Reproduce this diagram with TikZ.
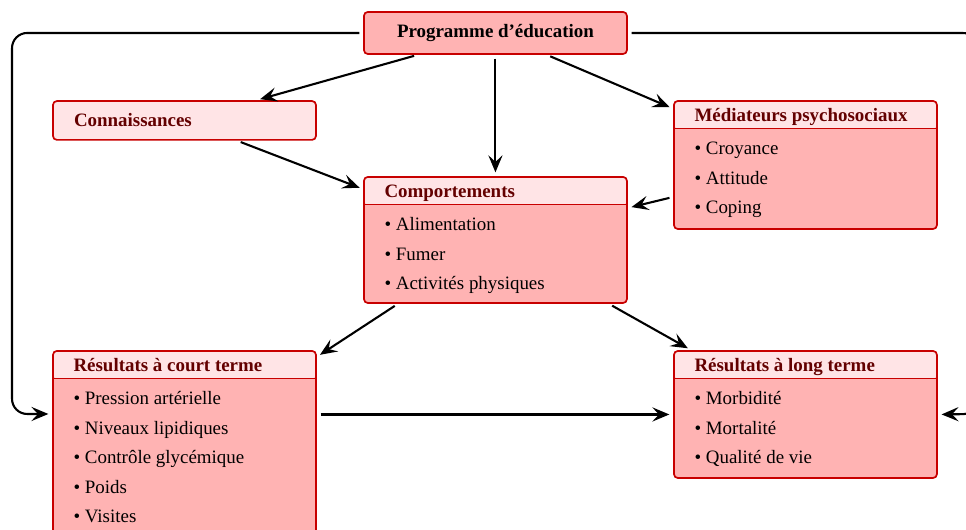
\documentclass[tikz,border=0pt]{standalone}
\usepackage{fontspec}
\setmainfont{Liberation Serif}
\usetikzlibrary{calc,arrows.meta}
\definecolor{boxred}{RGB}{255,179,179}
\definecolor{headred}{RGB}{255,228,230}
\definecolor{linered}{RGB}{200,0,0}
\definecolor{textred}{RGB}{100,0,0}

\begin{document}
\begin{tikzpicture}[
      box/.style={
        draw=linered, fill=boxred, line width=0.9pt, rounded corners=2pt,
        minimum width=4.88cm, inner sep=0pt
      },
      listbox/.style={box, path picture={
          \fill[headred] (path picture bounding box.north west) rectangle ([yshift=-0.51cm]path picture bounding box.north east);
          \draw[linered, line width=0.9pt] ([yshift=-0.51cm]path picture bounding box.north west) -- ([yshift=-0.51cm]path picture bounding box.north east);
        }},
      head/.style={anchor=base west, inner sep=0pt, font=\bfseries, text=textred},
      entry/.style={anchor=base west, inner sep=0pt},
      arr/.style={-{Stealth[length=9pt,width=7.5pt,inset=3.5pt]}, line width=1.1pt,
        shorten <=2pt, shorten >=2pt}
    ]
    \useasboundingbox (0,0) rectangle (17.93,-9.82);
    % boxes
    \node [box, minimum height=0.78cm, font=\bfseries] (prog) at (9.196,-0.612) {\raisebox{-2pt}{Programme d’éducation}};
    \node [box, fill=headred, minimum height=0.72cm, text width=4.1cm, align=left,
      font=\bfseries, text=textred] (conn) at (3.424,-2.236) {Connaissances};
    \node [listbox, minimum height=2.376cm] (med) at (14.95,-3.062) {};
    \node [listbox, minimum height=2.339cm] (comp) at (9.196,-4.454) {};
    \node [listbox, minimum height=3.434cm] (court) at (3.424,-8.231) {};
    \node [listbox, minimum height=2.357cm] (long) at (14.95,-7.693) {};
    % titles and items
    \node [head] (med-h) at ($(med.north west)+(0.39,-0.39)$) {Médiateurs psychosociaux};
    \foreach \txt [count=\i] in {Croyance, Attitude, Coping}
      \node [entry] (med-\i) at ($(med.north west)+(0.39,{-1.01-0.548*(\i-1)})$) {\textbullet\ \txt};
    \node [head] (comp-h) at ($(comp.north west)+(0.39,-0.39)$) {Comportements};
    \foreach \txt [count=\i] in {Alimentation, Fumer, Activités physiques}
      \node [entry] (comp-\i) at ($(comp.north west)+(0.39,{-1.01-0.548*(\i-1)})$) {\textbullet\ \txt};
    \node [head] (court-h) at ($(court.north west)+(0.39,-0.39)$) {Résultats à court terme};
    \foreach \txt [count=\i] in {Pression artérielle, Niveaux lipidiques, Contrôle glycémique, Poids, Visites}
      \node [entry] (court-\i) at ($(court.north west)+(0.39,{-1.01-0.548*(\i-1)})$) {\textbullet\ \txt};
    \node [head] (long-h) at ($(long.north west)+(0.39,-0.39)$) {Résultats à long terme};
    \foreach \txt [count=\i] in {Morbidité, Mortalité, Qualité de vie}
      \node [entry] (long-\i) at ($(long.north west)+(0.39,{-1.01-0.548*(\i-1)})$) {\textbullet\ \txt};
    % arrows
    \draw [arr] (prog) -- (conn);
    \draw [arr] (prog) -- (comp);
    \draw [arr] (prog) -- (med);
    \draw [arr] (conn) -- (comp);
    \draw [arr] (med) -- (comp);
    \draw [arr] (comp) -- (court);
    \draw [arr] (comp) -- (long);
    \draw [arr] (court.east |- long.west) -- (long.west);
    % feedback loops
    \coordinate (backL) at (0.223,-7.684);
    \coordinate (backR) at (18.15,-7.684);
    \draw [arr, rounded corners=8pt] (prog.west) -| (backL) -- (court.west |- backL);
    \draw [arr, rounded corners=8pt] (prog.east) -| (backR) -- (long.east);
  \end{tikzpicture}
\end{document}
